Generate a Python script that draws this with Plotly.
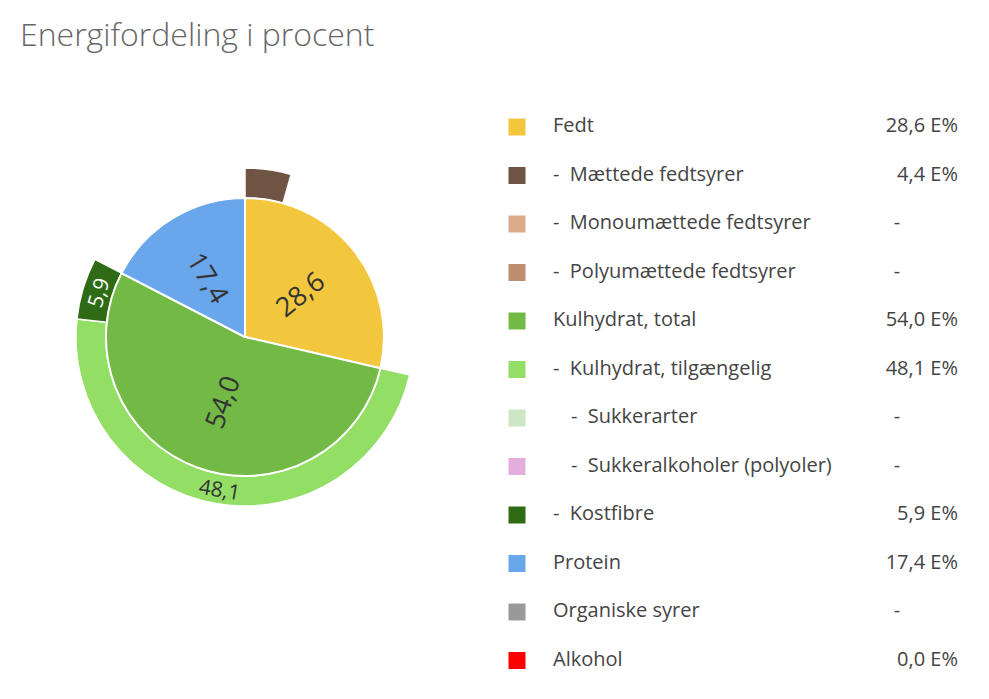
import math
import plotly.graph_objects as go

# ---- data ----
inner_labels = ["Fedt", "Kulhydrat, total", "Protein"]
inner_values = [28.6, 54.0, 17.4]
inner_colors = ["#F2C73E", "#72B946", "#6AA6EB"]

# outer ring: sub-components, placed within their parent sector
outer_labels = ["Mættede fedtsyrer", "Kulhydrat, tilgængelig", "Kostfibre"]
outer_values = [4.4, 48.1, 5.9]
outer_parent = [0, 1, 1]          # index into inner_* of the parent sector
outer_show_label = [False, True, True]
outer_colors = ["#6F5444", "#93DE64", "#2E6B14"]
outer_text_colors = ["#333333", "#333333", "#FFFFFF"]

legend_labels = ["Fedt", "Mættede fedtsyrer", "Monoumættede fedtsyrer", "Polyumættede fedtsyrer",
                 "Kulhydrat, total", "Kulhydrat, tilgængelig", "Sukkerarter",
                 "Sukkeralkoholer (polyoler)", "Kostfibre", "Protein", "Organiske syrer", "Alkohol"]
legend_levels = [0, 1, 1, 1, 0, 1, 2, 2, 1, 0, 0, 0]
legend_values = ["28,6 E%", "4,4 E%", None, None, "54,0 E%", "48,1 E%", None, None,
                 "5,9 E%", "17,4 E%", None, "0,0 E%"]
legend_colors = ["#F2C73E", "#6F5444", "#DDAA8C", "#BE8D72", "#72B946", "#93DE64",
                 "#CFE6C5", "#E3AEDE", "#2E6B14", "#6AA6EB", "#999999", "#FF0000"]

FONT = "Open Sans"
W, H = 989, 699

# ---- geometry ----
cx, cy = 245, 337
r_in, r_out = 139, 169

def dom(r):
    return dict(x=[(cx - r) / W, (cx + r) / W], y=[(H - cy - r) / H, (H - cy + r) / H])

fmt = lambda v: f"{v:.1f}".replace(".", ",")

# cumulative start of each parent sector
starts = []
acc = 0
for v in inner_values:
    starts.append(acc)
    acc += v
total = acc

# build outer ring sequence with transparent gaps, aligned to parent sectors
ring_vals, ring_cols, ring_line = [], [], []
ring_mid = []  # (mid value, idx)
for pi in range(len(inner_values)):
    seg_start = starts[pi]
    used = 0
    for oi, p in enumerate(outer_parent):
        if p == pi:
            ring_vals.append(outer_values[oi])
            ring_cols.append(outer_colors[oi])
            ring_line.append("white")
            ring_mid.append((seg_start + used + outer_values[oi] / 2, oi))
            used += outer_values[oi]
    rest = inner_values[pi] - used
    if rest > 1e-9:
        ring_vals.append(rest)
        ring_cols.append("rgba(0,0,0,0)")
        ring_line.append("rgba(0,0,0,0)")

fig = go.Figure()

fig.add_trace(go.Pie(
    values=ring_vals, sort=False, direction="clockwise", rotation=0,
    hole=r_in / r_out, domain=dom(r_out),
    marker=dict(colors=ring_cols, line=dict(color=ring_line, width=1.5)),
    textinfo="none", hoverinfo="skip", showlegend=False,
))

fig.add_trace(go.Pie(
    labels=inner_labels, values=inner_values, sort=False, direction="clockwise", rotation=0,
    domain=dom(r_in),
    marker=dict(colors=inner_colors, line=dict(color="white", width=2)),
    textinfo="none", hoverinfo="skip", showlegend=False,
))

def norm(a):
    a = (a + 180) % 360 - 180
    if a <= -90:
        a += 180
    elif a > 90:
        a -= 180
    return a

annotations = []
# inner labels: radial orientation
for i, v in enumerate(inner_values):
    th = (starts[i] + v / 2) / total * 360
    r = r_in * 0.5
    x = cx + r * math.sin(math.radians(th))
    y = cy - r * math.cos(math.radians(th))
    annotations.append(dict(x=x, y=y, xref="x", yref="y", text=fmt(v), showarrow=False,
                            textangle=norm(th - 90), font=dict(family=FONT, size=27, color="#333333"),
                            xanchor="center", yanchor="middle"))
# outer labels: tangential orientation
for mid, oi in ring_mid:
    if not outer_show_label[oi]:
        continue
    th = mid / total * 360
    r = (r_in + r_out) / 2
    x = cx + r * math.sin(math.radians(th))
    y = cy - r * math.cos(math.radians(th))
    annotations.append(dict(x=x, y=y, xref="x", yref="y", text=fmt(outer_values[oi]), showarrow=False,
                            textangle=norm(th), font=dict(family=FONT, size=21, color=outer_text_colors[oi]),
                            xanchor="center", yanchor="middle"))

# ---- legend (drawn as scatter on a pixel-unit overlay axis) ----
y0, dy = 127, 48.5
ys = [y0 + i * dy for i in range(len(legend_labels))]
sq_x, lab_x, val_x, dash_x = 517, 553, 958, 897

def lab(t, lvl):
    if lvl == 0:
        return t
    return "-\u00a0\u00a0" + t

lab_xs = [lab_x + (18 if l == 2 else 0) for l in legend_levels]

fig.add_trace(go.Scatter(
    x=[sq_x] * len(ys), y=ys, mode="markers",
    marker=dict(symbol="square", size=17, color=legend_colors, line=dict(width=0)),
    xaxis="x", yaxis="y", hoverinfo="skip", showlegend=False,
))
fig.add_trace(go.Scatter(
    x=lab_xs, y=ys, mode="text", text=[lab(t, l) for t, l in zip(legend_labels, legend_levels)],
    textposition="middle right", textfont=dict(family=FONT, size=20, color="#444444"),
    xaxis="x", yaxis="y", hoverinfo="skip", showlegend=False,
))
vx = [val_x if v else dash_x for v in legend_values]
vt = [v if v else "-" for v in legend_values]
vpos = ["middle left" if v else "middle center" for v in legend_values]
fig.add_trace(go.Scatter(
    x=vx, y=ys, mode="text", text=vt, textposition=vpos,
    textfont=dict(family=FONT, size=20, color="#444444"),
    xaxis="x", yaxis="y", hoverinfo="skip", showlegend=False,
))

fig.update_layout(
    width=W, height=H, margin=dict(l=0, r=0, t=0, b=0),
    paper_bgcolor="white", plot_bgcolor="rgba(0,0,0,0)",
    xaxis=dict(range=[0, W], domain=[0, 1], visible=False, fixedrange=True),
    yaxis=dict(range=[H, 0], domain=[0, 1], visible=False, fixedrange=True),
    title=dict(text="Energifordeling i procent", x=20 / W, xanchor="left", y=1 - 35 / H, yanchor="middle",
               font=dict(family=FONT, size=32, color="#666666", weight=300)),
    annotations=annotations,
    showlegend=False,
)

fig.write_html("out.html")
